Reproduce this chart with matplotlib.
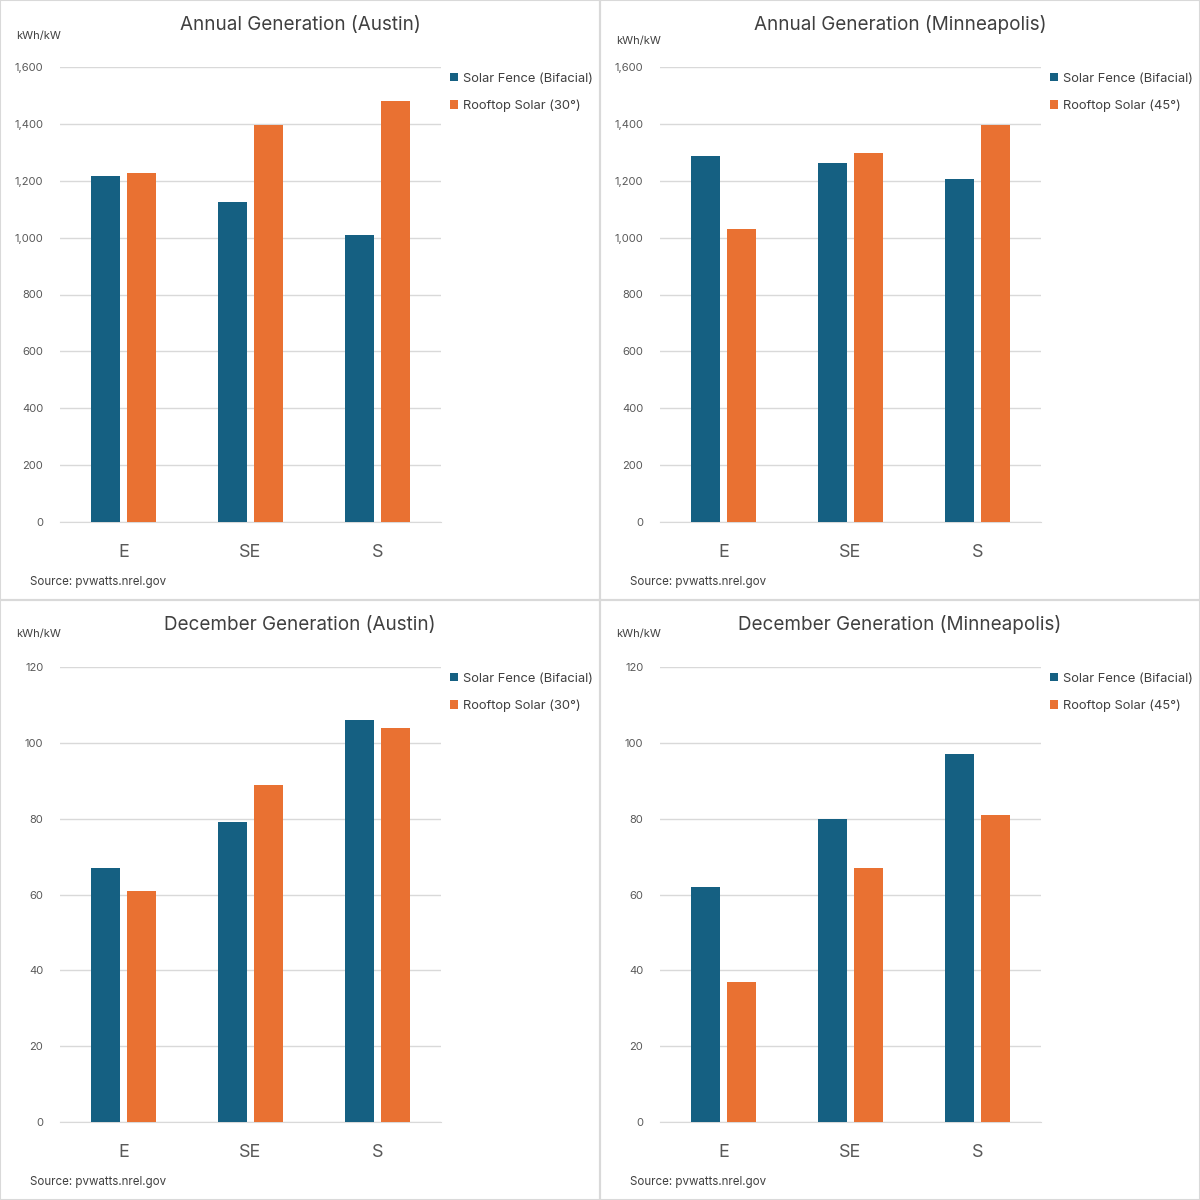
import matplotlib.pyplot as plt
import numpy as np
from matplotlib.patches import Rectangle

plt.rcParams['font.family'] = ['Inter', 'DejaVu Sans']

# data
directions = ['E', 'SE', 'S']
austin_annual_fence = [1218, 1127, 1008]
austin_annual_roof = [1226, 1395, 1480]
mpls_annual_fence = [1286, 1263, 1207]
mpls_annual_roof = [1032, 1296, 1395]
austin_dec_fence = [67, 79, 106]
austin_dec_roof = [61, 89, 104]
mpls_dec_fence = [62, 80, 97]
mpls_dec_roof = [37, 67, 81]

annual_ticks = [0, 200, 400, 600, 800, 1000, 1200, 1400, 1600]
dec_ticks = [0, 20, 40, 60, 80, 100, 120]

panels = [
    ('Annual Generation (Austin)', austin_annual_fence, austin_annual_roof, '30°', annual_ticks, 36),
    ('Annual Generation (Minneapolis)', mpls_annual_fence, mpls_annual_roof, '45°', annual_ticks, 41),
    ('December Generation (Austin)', austin_dec_fence, austin_dec_roof, '30°', dec_ticks, 34),
    ('December Generation (Minneapolis)', mpls_dec_fence, mpls_dec_roof, '45°', dec_ticks, 34),
]

BLUE = '#156082'
ORANGE = '#E97132'
GRID = '#D9D9D9'
TEXT = '#595959'

W = H = 1200
fig = plt.figure(figsize=(12, 12), dpi=100)

for i, (title, fence, roof, tilt, ticks, unit_y) in enumerate(panels):
    ox = (i % 2) * 600
    oy = (i // 2) * 600
    # axes box in pixels: x 60..441, y 67..522 within panel
    ax = fig.add_axes([(ox + 60) / W, 1 - (oy + 522) / H, 381 / W, 455 / H])
    x = np.arange(len(directions))
    ax.bar(x - 0.142, fence, width=0.222, color=BLUE, label='Solar Fence (Bifacial)', zorder=3)
    ax.bar(x + 0.142, roof, width=0.222, color=ORANGE, label=f'Rooftop Solar ({tilt})', zorder=3)
    ax.set_xlim(-0.5, 2.5)
    ax.set_ylim(0, ticks[-1])
    ax.set_yticks(ticks)
    ax.set_yticklabels([f'{t:,}' for t in ticks], fontsize=8, color=TEXT)
    ax.set_xticks(x)
    ax.set_xticklabels(directions, fontsize=13, color=TEXT)
    ax.tick_params(axis='both', length=0)
    ax.tick_params(axis='x', pad=16)
    ax.tick_params(axis='y', pad=12)
    ax.grid(axis='y', color=GRID, linewidth=1, zorder=0)
    for s in ['top', 'right', 'left']:
        ax.spines[s].set_visible(False)
    ax.spines['bottom'].set_color(GRID)
    ax.set_facecolor('none')

    fig.text((ox + 300) / W, 1 - (oy + 25) / H, title, fontsize=13.6, color='#404040',
             ha='center', va='center')
    fig.text((ox + 16) / W, 1 - (oy + unit_y) / H, 'kWh/kW', fontsize=8, color='#404040',
             ha='left', va='center')
    fig.text((ox + 30) / W, 1 - (oy + 582) / H, 'Source: pvwatts.nrel.gov', fontsize=8.3,
             color='#404040', ha='left', va='center')

    handles, labels = ax.get_legend_handles_labels()
    fig.legend(handles, labels, loc='upper left',
               bbox_to_anchor=((ox + 438) / W, 1 - (oy + 61) / H),
               frameon=False, fontsize=9.3, handlelength=0.65, handleheight=0.65,
               handletextpad=0.35, labelspacing=1.15, labelcolor='#404040')

# panel borders
for x0, y0 in [(0, 0), (600, 0), (0, 600), (600, 600)]:
    fig.patches.append(Rectangle((x0 / W, 1 - (y0 + 600) / H), 600 / W, 600 / H,
                                 transform=fig.transFigure, fill=False,
                                 edgecolor='#D9D9D9', linewidth=1.5))

fig.savefig('out.png', dpi=100)
